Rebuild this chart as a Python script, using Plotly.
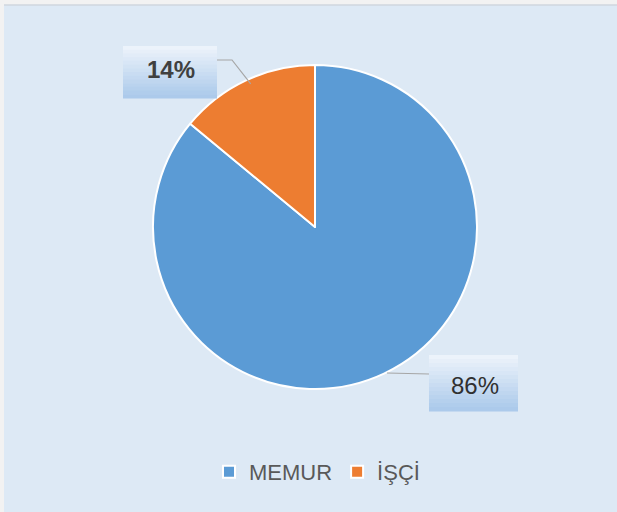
import plotly.graph_objects as go
import math

labels = ["MEMUR", "İŞÇİ"]
values = [86, 14]
colors = ["#5b9bd5", "#ed7d31"]

W, H = 617, 512
# pie geometry in pixels
cx, cy, r = 315, 227, 162

def px(x):
    return x / W

def py(y):
    return 1 - y / H

fig = go.Figure()
fig.add_trace(go.Pie(
    labels=labels, values=values, sort=False, direction="clockwise", rotation=0,
    marker=dict(colors=colors, line=dict(color="white", width=2)),
    textinfo="none", hoverinfo="label+percent",
    domain=dict(x=[px(cx - r), px(cx + r)], y=[py(cy + r), py(cy - r)]),
))

shapes = []
# frame: light background panel
shapes.append(dict(type="rect", xref="paper", yref="paper", x0=px(4), x1=1, y0=0, y1=py(5),
                   fillcolor="#dde9f5", line=dict(width=0), layer="below"))
shapes.append(dict(type="line", xref="paper", yref="paper", x0=px(4), x1=1, y0=py(5), y1=py(5),
                   line=dict(color="#cfd6de", width=1.5), layer="below"))

def grad_box(x0, x1, y0, y1, n=14):
    top = (236, 243, 251)
    bot = (172, 202, 235)
    h = (y1 - y0) / n
    for i in range(n):
        t = i / (n - 1)
        c = tuple(int(top[k] + (bot[k] - top[k]) * t) for k in range(3))
        shapes.append(dict(type="rect", xref="paper", yref="paper",
                           x0=px(x0), x1=px(x1), y0=py(y0 + (i + 1) * h + 0.5), y1=py(y0 + i * h),
                           fillcolor="rgb(%d,%d,%d)" % c, line=dict(width=0), layer="above"))

# label boxes
boxes = {"14%": (123, 217, 46, 98), "86%": (429, 518, 355, 411)}
total = sum(values)
ang_isci = (values[0] / total) * 2 * math.pi + (values[1] / total) * math.pi
ex = cx + r * math.sin(ang_isci) * 0.99
ey = cy - r * math.cos(ang_isci) * 0.99
shapes.append(dict(type="path", xref="paper", yref="paper",
                   path="M %f,%f L %f,%f L %f,%f" % (px(217), py(60), px(232), py(60), px(ex + 4), py(ey + 2)),
                   line=dict(color="#a6a6a6", width=1.2), layer="above"))
shapes.append(dict(type="line", xref="paper", yref="paper", x0=px(387), x1=px(429), y0=py(373), y1=py(374),
                   line=dict(color="#a6a6a6", width=1.2), layer="above"))

for k, (x0, x1, y0, y1) in boxes.items():
    grad_box(x0, x1, y0, y1)

pcts = [f"{round(v / total * 100)}%" for v in values]
annotations = [
    dict(text=f"<b>{pcts[1]}</b>", x=px(170.5), y=py(69.5), xref="paper", yref="paper", showarrow=False,
         xanchor="center", yanchor="middle",
         font=dict(family="Liberation Sans, Arial", size=24, color="#404040")),
    dict(text=pcts[0], x=px(475), y=py(385.5), xref="paper", yref="paper", showarrow=False,
         xanchor="center", yanchor="middle",
         font=dict(family="Liberation Sans, Arial", size=24, color="#303030")),
]

fig.update_layout(
    width=W, height=H, margin=dict(l=0, r=0, t=0, b=0),
    paper_bgcolor="#f2f2f2",
    shapes=shapes, annotations=annotations,
    showlegend=True,
    legend=dict(orientation="h", x=px(317), xanchor="center", y=py(472), yanchor="middle",
                font=dict(family="Liberation Sans, Arial", size=22, color="#595959"),
                bgcolor="rgba(0,0,0,0)", itemwidth=30, traceorder="normal"),
)

fig.write_html("out.html", config={"displayModeBar": False},
               post_script="document.body.style.margin='0';document.body.style.overflow='hidden';")
